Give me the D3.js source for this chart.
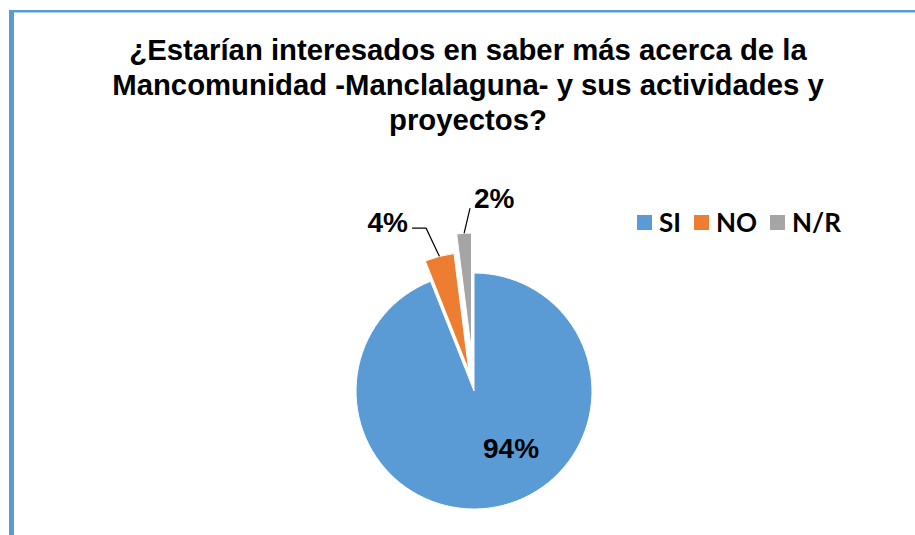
<!DOCTYPE html>
<html>
<head>
<meta charset="utf-8">
<script src="https://cdn.jsdelivr.net/npm/d3@7"></script>
<style>
  html, body { margin: 0; padding: 0; background: #fff; }
  svg { display: block; }
</style>
</head>
<body>
<div id="chart"></div>
<script>
// Pie chart: ¿Estarían interesados...? — SI / NO / N/R

const titleLines = [
  "¿Estarían interesados en saber más acerca de la",
  "Mancomunidad -Manclalaguna- y sus actividades y",
  "proyectos?",
];
const categories = ["SI", "NO", "N/R"];
const values     = [94, 4, 2];
const valueLabels = ["94%", "4%", "2%"];

const colors  = ["#5b9bd5", "#ed7d31", "#a5a5a5"];
const explode = [0, 21, 40];            // px the slice is pulled out
// label position, polar around pie centre: [angle deg clockwise from top, radius]
const labelPolar = [[147, 68], [333, 190], [6, 194]];

(function () {
  const width = 915, height = 535;
  const cx = 474, cy = 391, r = 118;

  const svg = d3.select("#chart").append("svg")
    .attr("width", width).attr("height", height);

  // border (blue frame, only top and left visible)
  svg.append("rect").attr("x", 9).attr("y", 10).attr("width", width - 9).attr("height", 2.5)
    .attr("fill", "#5b9bd5");
  svg.append("rect").attr("x", 9).attr("y", 10).attr("width", 5).attr("height", height - 10)
    .attr("fill", "#5b9bd5");

  // title
  svg.append("g").selectAll("text").data(titleLines).join("text")
    .attr("x", 468).attr("y", (d, i) => 60 + i * 35)
    .attr("text-anchor", "middle")
    .attr("font-family", "Liberation Sans, Arial, sans-serif")
    .attr("font-weight", "bold").attr("font-size", "29.3px").attr("fill", "#000")
    .text((d) => d);

  // pie
  const pie = d3.pie().sort(null).startAngle(0).endAngle(2 * Math.PI);
  const arcs = pie(values);
  const arc = d3.arc().innerRadius(0).outerRadius(r);

  const g = svg.append("g").attr("transform", `translate(${cx},${cy})`);

  const offset = (d, i) => {
    const m = (d.startAngle + d.endAngle) / 2;
    return [explode[i] * Math.sin(m), -explode[i] * Math.cos(m)];
  };

  g.selectAll("path").data(arcs).join("path")
    .attr("d", arc)
    .attr("transform", (d, i) => `translate(${offset(d, i)})`)
    .attr("fill", (d, i) => colors[i])
    .attr("stroke", "#fff").attr("stroke-width", 1);

  // data labels
  const lab = arcs.map((d, i) => {
    const a = labelPolar[i][0] * Math.PI / 180, rr = labelPolar[i][1];
    return { x: rr * Math.sin(a), y: -rr * Math.cos(a), i, d };
  });

  const labelSel = g.selectAll("text.lbl").data(lab).join("text")
    .attr("class", "lbl")
    .attr("x", (d) => d.x).attr("y", (d) => d.y)
    .attr("text-anchor", "middle").attr("dy", "0.36em")
    .attr("font-family", "Liberation Sans, Arial, sans-serif")
    .attr("font-weight", "bold").attr("font-size", "28px").attr("fill", "#000")
    .text((d) => valueLabels[d.i]);

  // leader lines for exploded (outside) labels
  labelSel.each(function (d) {
    if (explode[d.i] === 0) return;
    const bb = this.getBBox();
    const off = offset(d.d, d.i);
    const m = (d.d.startAngle + d.d.endAngle) / 2;
    const tip = [off[0] + r * Math.sin(m), off[1] - r * Math.cos(m)];
    let pts;
    if (d.x < tip[0] - 10) {
      const p0 = [bb.x + bb.width + 4, d.y + 6.5];
      pts = [p0, [p0[0] + 14, p0[1]], tip];
    } else {
      pts = [[bb.x - 4, d.y + 10], tip];
    }
    g.append("path")
      .attr("d", d3.line()(pts))
      .attr("fill", "none").attr("stroke", "#000").attr("stroke-width", 1.2);
  });

  // legend
  const leg = svg.append("g").attr("transform", "translate(637,215)");
  let lx = 0;
  categories.forEach((c, i) => {
    leg.append("rect").attr("x", lx).attr("y", 0).attr("width", 15).attr("height", 15)
      .attr("fill", colors[i]);
    const t = leg.append("text").attr("x", lx + 22).attr("y", 17)
      .attr("font-family", "Lato, Open Sans, sans-serif")
      .attr("font-weight", "bold").attr("font-size", "26px").attr("fill", "#000")
      .text(c);
    lx += 22 + t.node().getComputedTextLength() + 13;
  });
})();
</script>
</body>
</html>
